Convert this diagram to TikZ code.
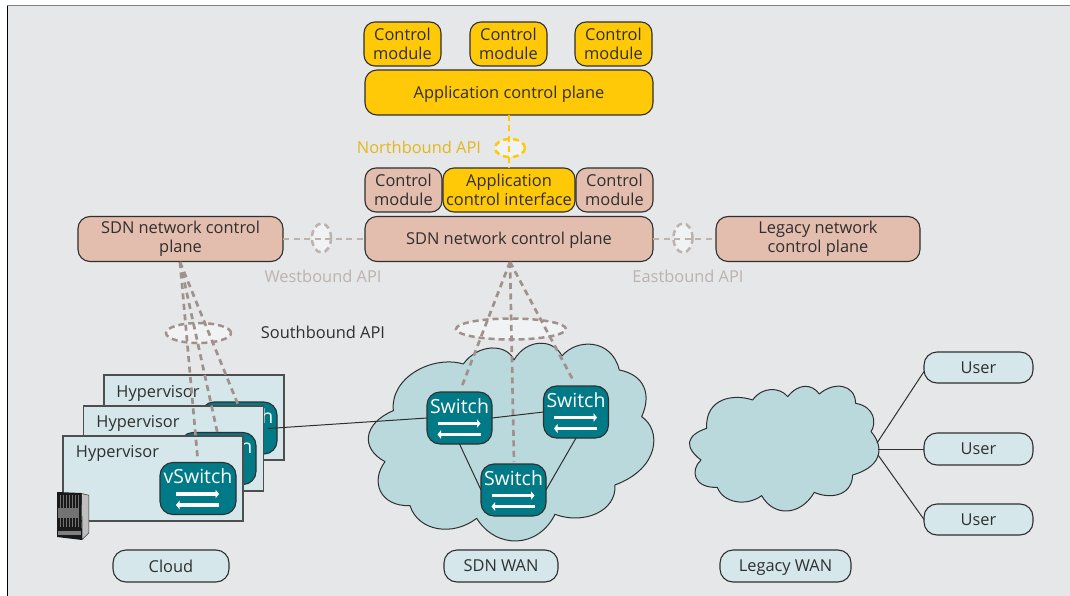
\documentclass[tikz,border=0pt]{standalone}
\usepackage{fontspec}
\setmainfont{Open Sans}
\usetikzlibrary{arrows.meta,shapes.geometric}
\definecolor{bgc}{HTML}{E6E7E9}
\definecolor{ink}{HTML}{2F2F2F}
\definecolor{yel}{HTML}{FFC907}
\definecolor{pnk}{HTML}{E3BDAE}
\definecolor{lbl}{HTML}{D5E7EB}
\definecolor{tl}{HTML}{007A87}
\definecolor{cld}{HTML}{B9D9DD}
\definecolor{dsh}{HTML}{A0918C}
\definecolor{dshl}{HTML}{BCB2AE}
\definecolor{ygold}{HTML}{E2B71C}
\definecolor{elf}{HTML}{F1F2F4}
\tikzset{
  x=1pt,y=-1pt,
  every node/.style={inner sep=0pt,outer sep=0pt,text=ink,align=center,font=\fontsize{16.4}{19}\selectfont},
  rbox/.style={draw=ink,line width=1.1pt,rounded corners=11pt},
  ybox/.style={rbox,fill=yel},
  pbox/.style={rbox,fill=pnk},
  lbox/.style={rbox,fill=lbl,rounded corners=13pt},
  hvbox/.style={draw=ink!85,line width=1.1pt,fill=lbl,minimum width=180pt,minimum height=85pt},
  swbox/.style={draw=ink,line width=1.1pt,fill=tl,rounded corners=13pt,minimum width=65pt,minimum height=52pt},
  swtext/.style={text=white,font=\fontsize{19.5}{22}\selectfont},
  swarrow/.style={draw=white,line width=3.6pt,-{Triangle[length=3.5pt,width=8.5pt]}},
  dline/.style={draw=dsh,line width=2.7pt,dash pattern=on 6pt off 4.5pt},
  dlinel/.style={draw=dshl,line width=2.7pt,dash pattern=on 6pt off 4.5pt},
  yline/.style={draw=yel,line width=2.7pt,dash pattern=on 6pt off 4.5pt},
  apiell/.style={ellipse,fill=elf,line width=2.5pt,dash pattern=on 6pt off 4pt},
  link/.style={draw=ink,line width=1pt},
  cloudshape/.style={draw=ink,line width=1pt,fill=cld,line join=round},
}
\newcommand{\swnode}[4]{%
  \node[swbox,minimum width=#4] (#1) at (#2) {};
  \node[swtext] (#1-t) at ([yshift=12pt]#1.center) {#3};
  \draw[swarrow] ([shift={(-22,5.5)}]#1.center) -- ([shift={(21,5.5)}]#1.center);
  \draw[swarrow] ([shift={(21,16.5)}]#1.center) -- ([shift={(-22,16.5)}]#1.center);
}
\begin{document}
\begin{tikzpicture}
\useasboundingbox (0,0) rectangle (1070,596);
\fill[white] (0,0) rectangle (1070,596);
\fill[bgc] (7,6) rectangle (1070,596);
\draw[gray,line width=1pt] (7,6) -- (1070,6);
\draw[black,line width=1pt] (7,6) -- (7,596);

% SDN cloud
\begin{scope}[shift={(350,260)},x=0.3333pt,y=-0.3333pt]
\draw[cloudshape] (130,452)
 .. controls (120,350) and (250,285) .. (340,312)
 .. controls (385,250) and (470,250) .. (492,300)
 .. controls (530,235) and (610,235) .. (636,288)
 .. controls (680,235) and (785,235) .. (808,330)
 .. controls (885,345) and (905,405) .. (875,470)
 .. controls (935,510) and (930,625) .. (795,675)
 .. controls (800,755) and (700,795) .. (615,763)
 .. controls (565,865) and (440,870) .. (380,775)
 .. controls (310,830) and (205,815) .. (180,737)
 .. controls (90,740) and (60,665) .. (105,605)
 .. controls (30,565) and (40,490) .. (130,452) -- cycle;
\end{scope}
% Legacy cloud
\begin{scope}[shift={(670,340)},x=0.3333pt,y=-0.3333pt]
\draw[cloudshape] (110,265)
 .. controls (105,175) and (190,160) .. (248,180)
 .. controls (275,140) and (330,140) .. (353,170)
 .. controls (385,130) and (425,130) .. (448,162)
 .. controls (490,125) and (555,130) .. (557,190)
 .. controls (615,200) and (620,250) .. (603,275)
 .. controls (635,310) and (650,375) .. (548,405)
 .. controls (545,475) and (470,475) .. (433,457)
 .. controls (390,530) and (310,530) .. (275,467)
 .. controls (230,500) and (160,490) .. (142,442)
 .. controls (70,445) and (60,390) .. (93,360)
 .. controls (40,320) and (50,285) .. (110,265) -- cycle;
\end{scope}

% top stack
\node[ybox,minimum width=77pt,minimum height=44pt] (cm1) at (402.5,44) {Control\\module};
\node[ybox,minimum width=77pt,minimum height=44pt] (cm2) at (508.5,44) {Control\\module};
\node[ybox,minimum width=77pt,minimum height=44pt] (cm3) at (613.5,44) {Control\\module};
\node[ybox,minimum width=288pt,minimum height=45pt,rounded corners=12pt,text depth=0pt] (acp) at (509,92.5) {Application control plane};

\node[pbox,minimum width=77pt,minimum height=44pt] (pm1) at (403.5,190) {Control\\module};
\node[pbox,minimum width=77pt,minimum height=44pt] (pm2) at (614.5,190) {Control\\module};
\node[ybox,minimum width=132pt,minimum height=44pt] (aci) at (509,190) {Application\\control interface};
\node[pbox,minimum width=288pt,minimum height=45pt,rounded corners=12pt,text depth=1.5pt] (sdnc) at (509,239) {SDN network control plane};
\node[pbox,minimum width=205pt,minimum height=45pt,rounded corners=12pt] (sdnl) at (180.5,239) {SDN network control\\plane};
\node[pbox,minimum width=204pt,minimum height=45pt,rounded corners=12pt] (leg) at (818,239) {Legacy network\\control plane};

% API ellipses
\node[apiell,draw=yel,minimum width=30pt,minimum height=18pt] (ne) at (510,148) {};
\draw[yline] (acp.south) -- (aci.north);
\node[apiell,draw=dshl,minimum width=19pt,minimum height=29pt] (we) at (321.5,238) {};
\draw[dlinel] (sdnl.east) -- (sdnc.west);
\node[apiell,draw=dshl,minimum width=19pt,minimum height=29pt] (ee) at (683,238) {};
\draw[dlinel] (sdnc.east) -- (leg.west);
\node[apiell,draw=dsh,minimum width=65pt,minimum height=20pt] (se) at (198.5,333) {};
\node[apiell,draw=dsh,minimum width=110pt,minimum height=21pt] (ce) at (511,329) {};

% API labels
\node[text=ygold,anchor=east] (nl) at (481,147) {Northbound API};
\node[text=dshl] (wl) at (323,276) {Westbound API};
\node[text=dshl] (el) at (688,276) {Eastbound API};
\node (sl) at (323,332) {Southbound API};

% anchors for free ends
\coordinate (sdnlb) at (180,262);
\coordinate (sdncb) at (510,262);
\coordinate (cl) at (462,386);
\coordinate (cr) at (573,380);
\coordinate (cm) at (514,462);
\coordinate (linkst) at (268,428.5);

% centre dashes
\draw[dline] (sdncb) -- (cl);
\draw[dline] (sdncb) -- (cr);
\draw[dline] (sdncb) -- (cm);

% hypervisor stack
\node[hvbox] (hv1) at (194,417.5) {};
\node (hv1-t) at (158,393.5) {Hypervisor};
\swnode{vs1}{239,428}{vSwitch}{76pt}
\draw[dline] (sdnlb) -- ([yshift=-5pt]vs1.north);
\node[hvbox] (hv2) at (173.5,448.5) {};
\node (hv2-t) at (138,423.5) {Hypervisor};
\swnode{vs2}{218,458.5}{vSwitch}{76pt}
\draw[dline] (sdnlb) -- ([yshift=-3pt]vs2.north);
\node[hvbox] (hv3) at (153,478.5) {};
\node (hv3-t) at (117.5,453.5) {Hypervisor};
\swnode{vs3}{198,488.5}{vSwitch}{76pt}
\draw[dline,shorten >=5pt] (sdnlb) -- (vs3.north);

% links between switches
\swnode{sw1}{459.5,418}{Switch}{65pt}
\swnode{sw2}{576,412}{Switch}{65pt}
\draw[link] (linkst) -- (sw1.west);
\draw[link] (sw1.east) -- (sw2.west);
\draw[link] (sw1.south) -- (481,490);
\draw[link] (sw2.south) -- (546,490);
\swnode{sw3}{513.5,490}{Switch}{65pt}

% server
\fill[black!80] (81,493) -- (89,495) -- (89,533) -- (82,540) -- cycle;
\fill[black!25] (82,494) -- (88.5,495.5) -- (88.5,532.5) -- (82.5,538.5) -- cycle;
\fill[black!90] (57,492) -- (81,493) -- (82,540) -- (57,537) -- cycle;
\foreach \xx in {60,63,66,69,72,75,78}{\draw[black!55,line width=.7pt] (\xx,495) -- (\xx,527);}
\fill[black!55] (58,508) rectangle (78,518);
\fill[black!50] (58,531) rectangle (81,535);

% labels at the bottom
\node[lbox,minimum width=116pt,minimum height=32pt] (cloud) at (171,566) {Cloud};
\node[lbox,minimum width=114pt,minimum height=32pt] (sdnw) at (501,566) {SDN WAN};
\node[lbox,minimum width=131pt,minimum height=32pt,text depth=0pt] (legw) at (785.5,566) {Legacy WAN};
\node[lbox,minimum width=109pt,minimum height=31pt] (u1) at (978.5,367.5) {User};
\node[lbox,minimum width=109pt,minimum height=32pt] (u2) at (978.5,449) {User};
\node[lbox,minimum width=109pt,minimum height=31pt] (u3) at (978.5,519.5) {User};
\coordinate (h1) at (877,443);
\coordinate (h2) at (878,449);
\coordinate (h3) at (878,455);
\draw[link] (h1) -- ([yshift=-4pt]u1.west);
\draw[link] (h2) -- (u2.west);
\draw[link] (h3) -- (u3.west);
\end{tikzpicture}
\end{document}
